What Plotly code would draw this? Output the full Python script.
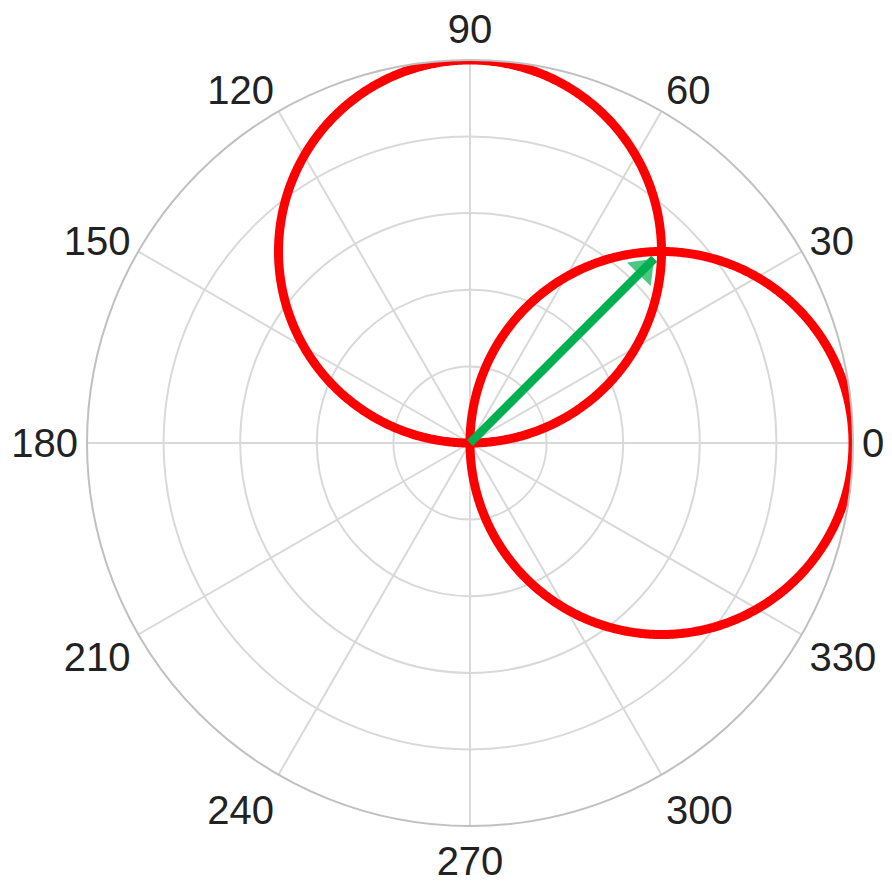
import numpy as np
import plotly.graph_objects as go

# Data
circle_diameters = [1.0, 1.0]          # two circles through the origin
circle_directions = [0.0, 90.0]        # direction of each diameter (deg)
arrow_r = [0.0, 0.68]                  # green vector magnitude
arrow_theta = [45.0, 45.0]             # green vector direction (deg)
angular_ticks = list(range(0, 360, 30))
radial_range = [0, 1.0]
radial_dtick = 0.2

fig = go.Figure()

for d, a in zip(circle_diameters, circle_directions):
    th = np.linspace(a - 90, a + 90, 721)
    r = d * np.cos(np.radians(th - a))
    fig.add_trace(go.Scatterpolar(
        r=r, theta=th, mode="lines",
        line=dict(color="#ff0000", width=9),
        cliponaxis=False, showlegend=False, hoverinfo="skip"))

fig.add_trace(go.Scatterpolar(
    r=arrow_r, theta=arrow_theta, mode="lines+markers",
    line=dict(color="#00b050", width=8.5, backoff=13),
    marker=dict(symbol=["circle", "triangle-up"], size=[0, 29],
                angle=[0, 45], standoff=[0, 14.5], color="#00b050",
                line=dict(width=0)),
    cliponaxis=False, showlegend=False, hoverinfo="skip"))

fig.update_layout(
    width=892, height=892,
    margin=dict(l=79, r=47, t=52, b=74),
    paper_bgcolor="white",
    font=dict(family="Liberation Sans, Arial, sans-serif", size=40, color="#222222"),
    polar=dict(
        bgcolor="white",
        radialaxis=dict(range=radial_range, dtick=radial_dtick, showticklabels=False,
                        ticks="", showline=False, gridcolor="#d9d9d9", gridwidth=1.5),
        angularaxis=dict(tickmode="array", tickvals=angular_ticks,
                         ticktext=[str(t) for t in angular_ticks],
                         direction="counterclockwise", rotation=0, ticks="",
                         gridcolor="#d9d9d9", gridwidth=1.5,
                         linecolor="#c0c0c0", linewidth=2,
                         tickfont=dict(size=40, color="#222222")),
    ),
)

fig.write_html("out.html")
